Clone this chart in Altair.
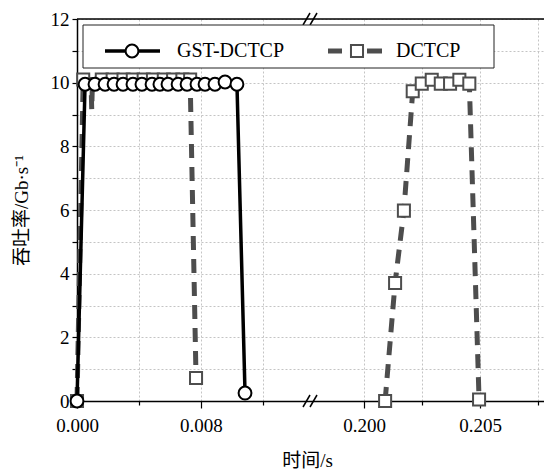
import altair as alt
import pandas as pd

series_names = ["GST-DCTCP", "DCTCP"]

# GST-DCTCP throughput (s, Gb/s)
gst_time = [0.0, 0.00052, 0.00116, 0.00181, 0.00239, 0.00297, 0.00361, 0.00419, 0.00484,
            0.00535, 0.00587, 0.00652, 0.00710, 0.00774, 0.00826, 0.00890, 0.00955,
            0.01032, 0.01084]
gst_rate = [0.0, 9.95, 9.95, 9.95, 9.95, 9.95, 9.95, 9.95, 9.95,
            9.95, 9.95, 9.95, 9.95, 9.95, 9.95, 9.95, 10.02,
            9.95, 0.25]
gst_marked = [True] * len(gst_time)

# DCTCP, first flow burst
dctcp_time_a = [0.0, 0.0004, 0.00090, 0.00095, 0.00100, 0.0016, 0.0023, 0.0030, 0.0036,
                0.0043, 0.0049, 0.0056, 0.0062, 0.0068, 0.0073, 0.00768]
dctcp_rate_a = [0.0, 10.1, 10.1, 9.15, 10.1, 10.1, 10.1, 10.1, 10.1,
                10.1, 10.1, 10.1, 10.1, 10.1, 10.1, 0.72]
dctcp_marked_a = [True, True, False, False, False, True, True, True, True,
                  True, True, True, True, True, True, True]

# DCTCP, second flow burst
dctcp_time_b = [0.20091, 0.20134, 0.20172, 0.20210, 0.20249, 0.20292, 0.20331,
                0.20371, 0.20411, 0.20454, 0.20496]
dctcp_rate_b = [0.0, 3.71, 5.98, 9.73, 9.97, 10.09, 9.97, 9.97, 10.09, 9.97, 0.05]
dctcp_marked_b = [True] * len(dctcp_time_b)

x_ticks = [0.0, 0.004, 0.008, 0.012, 0.2, 0.2025, 0.205, 0.2075]
x_labelled = ["0.000", "0.008", "0.200", "0.205"]
y_ticks = list(range(0, 13))

rows = []
for t, v, m in zip(gst_time, gst_rate, gst_marked):
    rows.append({"t": t, "v": v, "series": series_names[0], "seg": "g", "marked": m})
for t, v, m in zip(dctcp_time_a, dctcp_rate_a, dctcp_marked_a):
    rows.append({"t": t, "v": v, "series": series_names[1], "seg": "a", "marked": m})
for t, v, m in zip(dctcp_time_b, dctcp_rate_b, dctcp_marked_b):
    rows.append({"t": t, "v": v, "series": series_names[1], "seg": "b", "marked": m})
df = pd.DataFrame(rows)

W, H = 467, 382
BREAK_PX = 233
SERIF = "Liberation Serif, Noto Sans CJK SC"
GRAY = "#4d4d4d"

# Broken time axis: piecewise linear scale, both pieces meet at BREAK_PX
x_scale = alt.Scale(domain=[0.0, 0.0150323, 0.1976724, 0.2077586],
                    range=[0, BREAK_PX, BREAK_PX, W], nice=False, zero=False)
y_scale = alt.Scale(domain=[0, 12], nice=False, zero=True)

major_test = "datum.value == 0 || datum.value == 0.008 || datum.value == 0.2 || datum.value == 0.205"

x_axis = alt.Axis(
    values=x_ticks, format=".3f",
    labelExpr="indexof(" + str(x_labelled) + ", datum.label) >= 0 ? datum.label : ''",
    title="时间/s", titleFont=SERIF, titleFontSize=19, titleFontWeight="normal",
    titleColor="black",
    titleX=230, titleY=59, titleBaseline="middle", titleAlign="center",
    labelFont=SERIF, labelFontSize=19, labelColor="black", labelPadding=8,
    labelFlush=False, labelOverlap=False,
    tickSize={"condition": {"test": major_test, "value": 7}, "value": 4},
    tickColor="black", tickWidth=1.2,
    domainColor="black", domainWidth=1.5,
    grid=True, gridColor="#c4c4c4", gridDash=[2, 2], gridWidth=1,
)
y_axis = alt.Axis(
    values=y_ticks,
    labelExpr="datum.value % 2 == 0 ? datum.label : ''",
    title="吞吐率/Gb·s⁻¹", titleFont=SERIF, titleFontSize=19, titleFontWeight="normal",
    titleColor="black",
    titleAngle=270, titleX=-56, titleY=H / 2, titleAlign="center", titleBaseline="middle",
    labelFont=SERIF, labelFontSize=19, labelColor="black", labelPadding=3,
    labelFlush=False, labelOverlap=False,
    tickSize=5, tickColor="black", tickWidth=1.2,
    domainColor="black", domainWidth=1.5,
    grid=True, gridColor="#c4c4c4", gridDash=[2, 2], gridWidth=1,
)

X = alt.X("t:Q", scale=x_scale, axis=x_axis)
Y = alt.Y("v:Q", scale=y_scale, axis=y_axis)

base = alt.Chart(df)

dctcp_line = base.transform_filter(alt.datum.series == series_names[1]).mark_line(
    color=GRAY, strokeWidth=5, strokeDash=[14, 9], strokeCap="butt"
).encode(x=X, y=Y, detail="seg:N")

dctcp_pts = base.transform_filter(
    (alt.datum.series == series_names[1]) & alt.datum.marked
).mark_point(shape="square", filled=True, fill="white", stroke=GRAY,
             strokeWidth=2, size=145, opacity=1).encode(x=X, y=Y)

gst_line = base.transform_filter(alt.datum.series == series_names[0]).mark_line(
    color="black", strokeWidth=3.5
).encode(x=X, y=Y, detail="seg:N")

gst_pts = base.transform_filter(
    (alt.datum.series == series_names[0]) & alt.datum.marked
).mark_point(shape="circle", filled=True, fill="white", stroke="black",
             strokeWidth=2, size=165, opacity=1).encode(x=X, y=Y)

# Frame top edge and axis-break symbols
one = alt.Chart(pd.DataFrame({"k": [0]}))
top_edge = one.mark_rule(color="black", strokeWidth=1.5).encode(
    x=alt.value(0), x2=alt.value(W), y=alt.value(0))
breaks = []
for y0 in (0, H):
    for dx in (-4, 3):
        breaks.append(one.mark_rule(color="black", strokeWidth=1.5).encode(
            x=alt.value(BREAK_PX + dx - 3), x2=alt.value(BREAK_PX + dx + 4),
            y=alt.value(y0 + 6), y2=alt.value(y0 - 6)))

# Legend box
names = alt.Chart(pd.DataFrame({"name": series_names, "i": [0, 1]}))
leg_box = one.mark_rect(fill="white", stroke="#222222", strokeWidth=1).encode(
    x=alt.value(6), x2=alt.value(417), y=alt.value(6), y2=alt.value(49))
leg_gst_line = one.mark_rule(color="black", strokeWidth=3.5).encode(
    x=alt.value(28), x2=alt.value(83), y=alt.value(32))
leg_gst_pt = one.mark_point(shape="circle", filled=True, fill="white", stroke="black",
                            strokeWidth=2, size=165, opacity=1).encode(
    x=alt.value(55), y=alt.value(32))
leg_d_line1 = one.mark_rule(color=GRAY, strokeWidth=5).encode(
    x=alt.value(251), x2=alt.value(265), y=alt.value(32))
leg_d_line2 = one.mark_rule(color=GRAY, strokeWidth=5).encode(
    x=alt.value(290), x2=alt.value(305), y=alt.value(32))
leg_d_pt = one.mark_point(shape="square", filled=True, fill="white", stroke=GRAY,
                          strokeWidth=2, size=145, opacity=1).encode(
    x=alt.value(280), y=alt.value(32))
leg_txt_gst = names.transform_filter(alt.datum.i == 0).mark_text(
    font=SERIF, fontSize=20, align="left", baseline="middle", color="black"
).encode(x=alt.value(100), y=alt.value(32), text="name:N")
leg_txt_d = names.transform_filter(alt.datum.i == 1).mark_text(
    font=SERIF, fontSize=20, align="left", baseline="middle", color="black"
).encode(x=alt.value(319), y=alt.value(32), text="name:N")

chart = alt.layer(
    dctcp_line, dctcp_pts, gst_line, gst_pts, top_edge, *breaks,
    leg_box, leg_gst_line, leg_gst_pt, leg_d_line1, leg_d_line2, leg_d_pt,
    leg_txt_gst, leg_txt_d,
).properties(
    width=W, height=H,
    autosize=alt.AutoSizeParams(type="none"),
    padding={"left": 77, "top": 19, "right": 0, "bottom": 71},
    background="white",
).configure_view(stroke=None)

chart.save("out.html", embed_options={"renderer": "svg", "actions": False})
